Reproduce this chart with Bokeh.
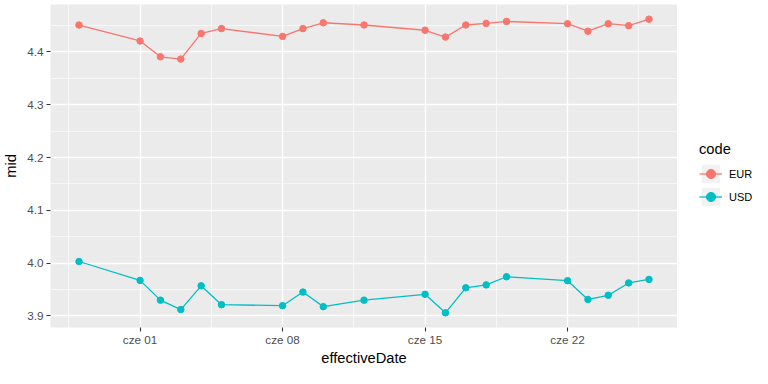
import pandas as pd
from bokeh.plotting import figure
from bokeh.layouts import row
from bokeh.models import Range1d, FixedTicker, Legend, LegendItem
from bokeh.embed import file_html
from bokeh.resources import INLINE

# ---- data ----
dates = ["2020-05-29", "2020-06-01", "2020-06-02", "2020-06-03", "2020-06-04",
         "2020-06-05", "2020-06-08", "2020-06-09", "2020-06-10", "2020-06-12",
         "2020-06-15", "2020-06-16", "2020-06-17", "2020-06-18", "2020-06-19",
         "2020-06-22", "2020-06-23", "2020-06-24", "2020-06-25", "2020-06-26"]
eur = [4.4510, 4.4208, 4.3908, 4.3865, 4.4351, 4.4443, 4.4295, 4.4443, 4.4553, 4.4511,
       4.4411, 4.4282, 4.4511, 4.4541, 4.4578, 4.4535, 4.4393, 4.4535, 4.4498, 4.4621]
usd = [4.0031, 3.9673, 3.9299, 3.9120, 3.9570, 3.9213, 3.9194, 3.9452, 3.9176, 3.9299,
       3.9410, 3.9059, 3.9533, 3.9588, 3.9742, 3.9668, 3.9312, 3.9391, 3.9625, 3.9692]
series_codes = ["EUR", "USD"]
series_colors = ["#F8766D", "#00BFC4"]
x_tick_dates = ["2020-06-01", "2020-06-08", "2020-06-15", "2020-06-22"]
x_tick_labels = ["cze 01", "cze 08", "cze 15", "cze 22"]
y_ticks = [3.9, 4.0, 4.1, 4.2, 4.3, 4.4]
y_tick_labels = ["3.9", "4.0", "4.1", "4.2", "4.3", "4.4"]

FONT = "Liberation Sans"


def ms(d):
    return pd.Timestamp(d).value / 1e6


xs = [ms(d) for d in dates]
xt = [ms(d) for d in x_tick_dates]
step = xt[1] - xt[0]
x_minor = [xt[0] - step / 2] + [t + step / 2 for t in xt]
y_step = y_ticks[1] - y_ticks[0]
y_minor = [y_ticks[0] - y_step / 2] + [t + y_step / 2 for t in y_ticks]

xpad = 0.05 * (max(xs) - min(xs))
allv = eur + usd
ypad = 0.05 * (max(allv) - min(allv))

# ---- main panel ----
p = figure(width=677, height=368, x_axis_type="datetime",
           x_range=Range1d(min(xs) - xpad, max(xs) + xpad),
           y_range=Range1d(min(allv) - ypad, max(allv) + ypad),
           output_backend="svg", toolbar_location=None,
           min_border_left=50, min_border_right=0, min_border_top=4,
           min_border_bottom=37)
p.background_fill_color = "#EBEBEB"
p.border_fill_color = "white"
p.outline_line_color = None

xticker = FixedTicker(ticks=xt, minor_ticks=x_minor)
yticker = FixedTicker(ticks=y_ticks, minor_ticks=y_minor)
p.xaxis.ticker = xticker
p.yaxis.ticker = yticker
p.xgrid.ticker = xticker
p.ygrid.ticker = yticker
p.xaxis.major_label_overrides = {t: l for t, l in zip(xt, x_tick_labels)}
p.yaxis.major_label_overrides = {t: l for t, l in zip(y_ticks, y_tick_labels)}

for g in (p.xgrid, p.ygrid):
    g.grid_line_color = "white"
    g.grid_line_width = 1.3
    g.minor_grid_line_color = "white"
    g.minor_grid_line_width = 0.6

for ax in (p.xaxis, p.yaxis):
    ax.axis_line_color = None
    ax.major_tick_line_color = "#333333"
    ax.major_tick_line_width = 1.1
    ax.major_tick_out = 4
    ax.major_tick_in = 0
    ax.minor_tick_out = 0
    ax.minor_tick_in = 0
    ax.major_label_text_font = FONT
    ax.major_label_text_font_size = "11.7px"
    ax.major_label_text_color = "#4D4D4D"
    ax.axis_label_text_font = FONT
    ax.axis_label_text_font_size = "14.7px"
    ax.axis_label_text_font_style = "normal"
    ax.axis_label_text_color = "black"

p.xaxis.axis_label = "effectiveDate"
p.yaxis.axis_label = "mid"
p.xaxis.major_label_standoff = 1
p.xaxis.axis_label_standoff = 1
p.yaxis.major_label_standoff = 3
p.yaxis.axis_label_standoff = 5

for code, vals, col in zip(series_codes, [eur, usd], series_colors):
    p.line(xs, vals, line_color=col, line_width=1.3)
    p.scatter(xs, vals, fill_color=col, line_color=col, size=6.5)

# ---- legend panel (separate blank figure; proxies fall outside its ranges) ----
lf = figure(width=75, height=368, x_range=Range1d(0, 1), y_range=Range1d(0, 1),
            output_backend="svg", toolbar_location=None,
            x_axis_location=None, y_axis_location=None,
            min_border_left=0, min_border_right=0, min_border_top=0,
            min_border_bottom=0)
lf.grid.visible = False
lf.outline_line_color = None
lf.background_fill_color = "white"
lf.border_fill_color = "white"

items = []
for code, vals, col in zip(series_codes, [eur, usd], series_colors):
    bg = lf.rect(x=xs[:1], y=vals[:1], width=1, height=1,
                 fill_color="#F2F2F2", line_color=None)
    ln = lf.line(xs, vals, line_color=col, line_width=1.3)
    pts = lf.scatter(xs, vals, fill_color=col, line_color=col, size=6.5)
    items.append(LegendItem(label=code, renderers=[bg, ln, pts]))

legend = Legend(items=items, title="code", location=(22, 119),
                title_text_font=FONT, title_text_font_size="14.7px",
                title_text_font_style="normal", title_text_color="black",
                title_standoff=5,
                label_text_font=FONT, label_text_font_size="11px",
                label_text_color="black", label_standoff=7,
                glyph_width=23, glyph_height=23, label_height=23,
                padding=0, margin=0, spacing=0,
                border_line_color=None, background_fill_alpha=0)
lf.add_layout(legend)

layout = row(p, lf)
open("out.html", "w").write(file_html(layout, INLINE))
